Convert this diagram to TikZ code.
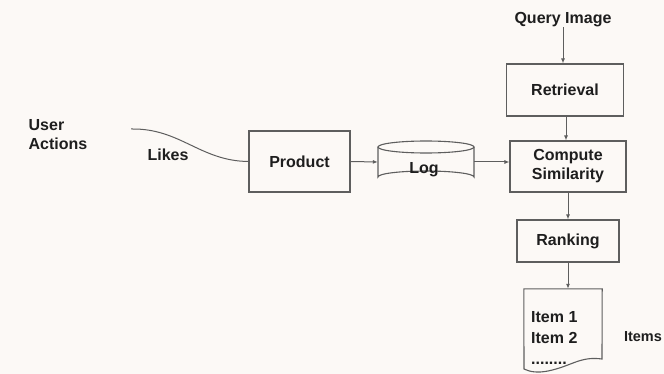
\documentclass[tikz,border=0pt]{standalone}
\usepackage{fontspec}
\setmainfont{Liberation Sans}
\usetikzlibrary{arrows.meta}
\definecolor{paper}{HTML}{FCF9F6}
\definecolor{edge}{HTML}{5E5E5E}
\definecolor{ink}{HTML}{1E1E1E}

\begin{document}
\begin{tikzpicture}[x=1pt, y=-1pt,
    box/.style={draw=edge, line width=1.1pt, text=ink, align=center, inner sep=0pt},
    lbl/.style={text=ink, align=left, inner sep=0pt},
    flow/.style={draw=edge, line width=1pt, -{Latex[length=5pt,width=4pt]}},
    every node/.style={font=\fontsize{16}{19}\selectfont\bfseries}]
    \useasboundingbox[fill=paper] (0,0) rectangle (664,374);

    % left side: user input
    \node[lbl] (user) at (58,135) {User\\Actions};
    \node[lbl] (likes) at (168,155) {Likes};
    \coordinate (src) at (131,129);

    % main chain
    \node[box, minimum width=101pt, minimum height=61pt] (product) at (299.5,161.5) {Product};
    % cylinder outline for the log store
    \draw[edge, line width=1.1pt] (378,147) -- (378,177) arc[start angle=180, end angle=360, x radius=48, y radius=6] -- (474,147);
    \draw[edge, line width=1.1pt] (426,147) ellipse[x radius=48, y radius=6];
    \node[inner sep=0pt, minimum width=96pt, minimum height=42pt, text=ink] (log) at (426,162) {};
    \node[text=ink, inner sep=0pt] at (424,170) {Log};

    \node[lbl] (query) at (563,20) {Query Image};
    \node[box, minimum width=117pt, minimum height=52pt] (retrieval) at (565,90) {Retrieval};
    \node[box, minimum width=116pt, minimum height=51pt] (compute) at (568,166.5) {Compute\\Similarity};
    \node[box, minimum width=102pt, minimum height=42pt] (ranking) at (568,241) {Ranking};

    % result list (document shape)
    \node[inner sep=0pt, minimum width=78pt, minimum height=83pt] (list) at (563,330.5) {};
    \node[lbl, anchor=north west, font=\fontsize{16}{21}\selectfont\bfseries] at (531,311) {Item 1\\Item 2\\........};
    \draw[edge, line width=1.1pt] (list.north west) -- (list.north east) -- (602,359)
        .. controls (580,356) and (572,366) .. (548,371) .. controls (538,373) and (530,372) .. (524,369) -- cycle;
    \node[lbl, font=\fontsize{14.5}{18}\selectfont\bfseries] (items) at (643,337) {Items};

    % connectors
    \draw[edge, line width=1pt] (src) .. controls (180,128) and (200,161) .. (product.west);
    \draw[flow] (product.east) -- (log.west);
    \draw[flow] (log.east) -- (log.east -| compute.west);
    \draw[flow] (query.south) -- (query.south |- retrieval.north);
    \draw[flow] (retrieval.south -| 566,0) -- (compute.north -| 566,0);
    \draw[flow] (compute.south) -- (ranking.north);
    \draw[flow] (ranking.south) -- (ranking.south |- list.north);
\end{tikzpicture}
\end{document}
